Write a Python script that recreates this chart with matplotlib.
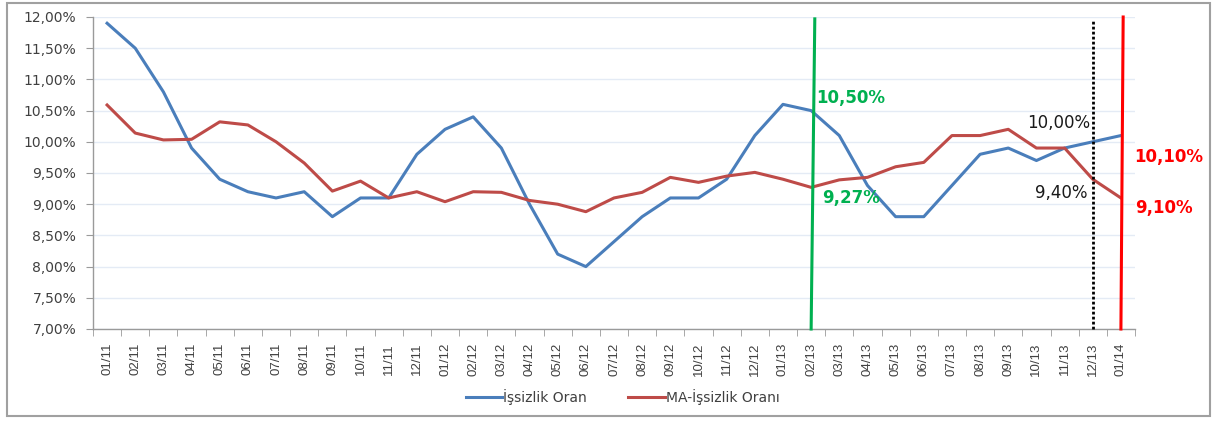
import matplotlib
matplotlib.use("Agg")
import matplotlib.pyplot as plt
from matplotlib.patches import Rectangle

months = ["01/11","02/11","03/11","04/11","05/11","06/11","07/11","08/11","09/11","10/11","11/11","12/11",
          "01/12","02/12","03/12","04/12","05/12","06/12","07/12","08/12","09/12","10/12","11/12","12/12",
          "01/13","02/13","03/13","04/13","05/13","06/13","07/13","08/13","09/13","10/13","11/13","12/13",
          "01/14"]
issizlik = [11.9, 11.5, 10.8, 9.9, 9.4, 9.2, 9.1, 9.2, 8.8, 9.1, 9.1, 9.8,
            10.2, 10.4, 9.9, 9.0, 8.2, 8.0, 8.4, 8.8, 9.1, 9.1, 9.4, 10.1,
            10.6, 10.5, 10.1, 9.3, 8.8, 8.8, 9.3, 9.8, 9.9, 9.7, 9.9, 10.0,
            10.1]
ma_issizlik = [10.59, 10.14, 10.03, 10.04, 10.32, 10.27, 10.0, 9.66, 9.21, 9.37, 9.1, 9.2,
               9.04, 9.2, 9.19, 9.06, 9.0, 8.88, 9.1, 9.19, 9.43, 9.35, 9.45, 9.51,
               9.4, 9.27, 9.39, 9.43, 9.6, 9.67, 10.1, 10.1, 10.2, 9.9, 9.9, 9.4,
               9.1]
yticks = [7.0, 7.5, 8.0, 8.5, 9.0, 9.5, 10.0, 10.5, 11.0, 11.5, 12.0]
ytick_labels = ["7,00%","7,50%","8,00%","8,50%","9,00%","9,50%","10,00%","10,50%","11,00%","11,50%","12,00%"]

BLUE = "#4A7EBB"
RED = "#BE4B48"
GREEN = "#00B050"

fig = plt.figure(figsize=(12.16, 4.21), dpi=100)
ax = fig.add_axes([93/1216, 1-329/421, (1135-93)/1216, (329-17)/421])

x = list(range(len(months)))
ax.plot(x, issizlik, color=BLUE, lw=2.2, label="İşsizlik Oran", zorder=3)
ax.plot(x, ma_issizlik, color=RED, lw=2.2, label="MA-İşsizlik Oranı", zorder=3)

i_feb13 = months.index("02/13")
i_dec13 = months.index("12/13")
i_jan14 = months.index("01/14")
ax.plot([i_feb13, i_feb13 + 0.13], [7.0, 11.97], color=GREEN, lw=2.2, zorder=4, clip_on=False)
ax.plot([i_dec13, i_dec13], [7.0, 11.95], color="black", lw=2, ls=(0, (1, 0.8)), zorder=4, clip_on=False)
ax.plot([i_jan14, i_jan14 + 0.08], [7.0, 12.0], color="#FF0000", lw=2.2, zorder=4, clip_on=False)

ax.text(i_feb13 + 0.17, 10.70, "10,50%", color=GREEN, fontsize=12, fontweight="bold", va="center", ha="left")
ax.text(i_feb13 + 0.38, 9.10, "9,27%", color=GREEN, fontsize=12, fontweight="bold", va="center", ha="left")
ax.text(i_dec13 - 0.1, 10.30, "10,00%", color="#1a1a1a", fontsize=12, va="center", ha="right")
ax.text(i_dec13 - 0.17, 9.18, "9,40%", color="#1a1a1a", fontsize=12, va="center", ha="right")
ax.text(i_jan14 + 0.46, 9.76, "10,10%", color="#FF0000", fontsize=12, fontweight="bold", va="center", ha="left", clip_on=False)
ax.text(i_jan14 + 0.5, 8.94, "9,10%", color="#FF0000", fontsize=12, fontweight="bold", va="center", ha="left", clip_on=False)

ax.set_xlim(-0.5, len(months) - 0.5)
ax.set_ylim(7.0, 12.0)
ax.set_yticks(yticks)
ax.set_yticklabels(ytick_labels, fontsize=10, color="#404040")
ax.set_xticks(x)
ax.set_xticklabels(months, rotation=90, fontsize=9.5, color="#404040",
                   family=["Liberation Sans", "DejaVu Sans"])
ax.set_xticks([i - 0.5 for i in range(len(months) + 1)], minor=True)
ax.tick_params(axis="x", which="major", length=0, pad=10)
ax.tick_params(axis="x", which="minor", length=5, color="#9a9a9a", direction="out")
ax.tick_params(axis="y", length=5, color="#9a9a9a", pad=7)

ax.grid(axis="y", color="#E4EBF5", lw=1, zorder=0)
ax.set_axisbelow(True)
for s in ["top", "right"]:
    ax.spines[s].set_visible(False)
for s in ["left", "bottom"]:
    ax.spines[s].set_color("#9a9a9a")
    ax.spines[s].set_linewidth(1)

leg = fig.legend(loc="center", bbox_to_anchor=(0.512, 1-397/421), ncol=2, frameon=False,
                 fontsize=10, handlelength=2.6, handletextpad=0.1, columnspacing=3.0)
for t in leg.get_texts():
    t.set_color("#404040")

fig.patches.append(Rectangle((7/1216, 1-416/421), (1210-7)/1216, (416-3)/421,
                             transform=fig.transFigure, fill=False, edgecolor="#A0A0A0", lw=1.5))

fig.savefig("out.png", dpi=100)
